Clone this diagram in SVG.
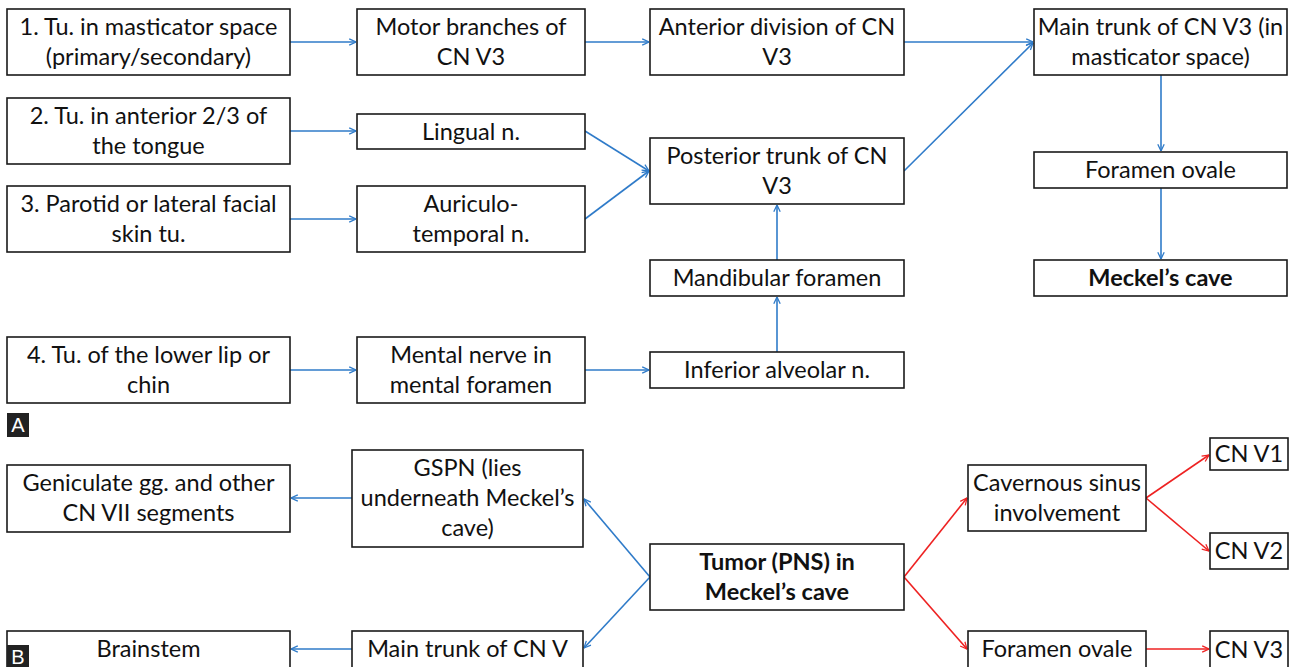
<svg xmlns="http://www.w3.org/2000/svg" width="1293" height="667" viewBox="0 0 1293 667">
<defs>
<marker id="ab" viewBox="0 0 10 10" refX="9.5" refY="5" markerWidth="8" markerHeight="8" orient="auto" markerUnits="userSpaceOnUse"><path d="M1,1 L9.5,5 L1,9" fill="none" stroke="#2F7BC9" stroke-width="1.6"/></marker>
<marker id="ar" viewBox="0 0 10 10" refX="9.5" refY="5" markerWidth="8" markerHeight="8" orient="auto" markerUnits="userSpaceOnUse"><path d="M1,1 L9.5,5 L1,9" fill="none" stroke="#EE2222" stroke-width="1.6"/></marker>
<style>
rect.n{fill:#fff;stroke:#1a1a1a;stroke-width:1.6}
text{font-family:Lato,"Liberation Sans",sans-serif;font-size:23.5px;fill:#111;text-anchor:middle}
text.b{font-weight:bold}
.cb line{stroke:#2F7BC9;stroke-width:1.6;marker-end:url(#ab)}
.cr line{stroke:#EE2222;stroke-width:1.6;marker-end:url(#ar)}
.lab rect{fill:#222}
.lab text{fill:#fff;font-family:"Liberation Sans",sans-serif;font-size:20px}
</style>
</defs>
<rect width="1293" height="667" fill="#fff"/>
<g id="connectors">
<g class="cb">
<line x1="290" y1="42" x2="356" y2="42"/>
<line x1="585" y1="42" x2="649" y2="42"/>
<line x1="904" y1="42" x2="1033" y2="42"/>
<line x1="904" y1="171" x2="1033" y2="43"/>
<line x1="290" y1="131" x2="356" y2="131"/>
<line x1="290" y1="219" x2="356" y2="219"/>
<line x1="585" y1="131" x2="649" y2="171"/>
<line x1="585" y1="219" x2="649" y2="171"/>
<line x1="777" y1="260" x2="777" y2="205"/>
<line x1="777" y1="352" x2="777" y2="297"/>
<line x1="290" y1="370" x2="356" y2="370"/>
<line x1="585" y1="370" x2="649" y2="370"/>
<line x1="1161" y1="75" x2="1161" y2="151"/>
<line x1="1161" y1="188" x2="1161" y2="259"/>
<line x1="352" y1="498" x2="291" y2="498"/>
<line x1="352" y1="649" x2="291" y2="649"/>
<line x1="650" y1="577" x2="584" y2="499"/>
<line x1="650" y1="577" x2="584" y2="648"/>
</g>
<g class="cr">
<line x1="904" y1="577" x2="967" y2="498"/>
<line x1="904" y1="577" x2="967" y2="649"/>
<line x1="1146" y1="498" x2="1209" y2="455"/>
<line x1="1146" y1="498" x2="1209" y2="551"/>
<line x1="1146" y1="649" x2="1209" y2="649"/>
</g>
</g>
<g id="n1"><rect class="n" x="7" y="9" width="283" height="66"/><text x="148.5" y="35">1. Tu. in masticator space</text><text x="148.5" y="65">(primary/secondary)</text></g>
<g id="n2"><rect class="n" x="7" y="98" width="283" height="66"/><text x="148.5" y="124">2. Tu. in anterior 2/3 of</text><text x="148.5" y="154">the tongue</text></g>
<g id="n3"><rect class="n" x="7" y="186" width="283" height="66"/><text x="148.5" y="212">3. Parotid or lateral facial</text><text x="148.5" y="242">skin tu.</text></g>
<g id="n4"><rect class="n" x="7" y="337" width="283" height="66"/><text x="148.5" y="363">4. Tu. of the lower lip or</text><text x="148.5" y="393">chin</text></g>
<g id="motor"><rect class="n" x="357" y="9" width="228" height="66"/><text x="471" y="35">Motor branches of</text><text x="471" y="65">CN V3</text></g>
<g id="lingual"><rect class="n" x="357" y="114" width="228" height="35"/><text x="471" y="140">Lingual n.</text></g>
<g id="auriculo"><rect class="n" x="357" y="186" width="228" height="66"/><text x="471" y="212">Auriculo-</text><text x="471" y="242">temporal n.</text></g>
<g id="mental"><rect class="n" x="357" y="337" width="228" height="66"/><text x="471" y="363">Mental nerve in</text><text x="471" y="393">mental foramen</text></g>
<g id="anterior"><rect class="n" x="650" y="9" width="254" height="66"/><text x="777" y="35">Anterior division of CN</text><text x="777" y="65">V3</text></g>
<g id="posterior"><rect class="n" x="650" y="138" width="254" height="66"/><text x="777" y="164">Posterior trunk of CN</text><text x="777" y="194">V3</text></g>
<g id="mandibular"><rect class="n" x="650" y="260" width="254" height="36"/><text x="777" y="286">Mandibular foramen</text></g>
<g id="inferior"><rect class="n" x="650" y="352" width="254" height="36"/><text x="777" y="378">Inferior alveolar n.</text></g>
<g id="maintrunk3"><rect class="n" x="1034" y="9" width="253" height="66"/><text x="1160.5" y="35">Main trunk of CN V3 (in</text><text x="1160.5" y="65">masticator space)</text></g>
<g id="foramenA"><rect class="n" x="1034" y="152" width="253" height="36"/><text x="1160.5" y="178">Foramen ovale</text></g>
<g id="meckel"><rect class="n" x="1034" y="260" width="253" height="36"/><text class="b" x="1160.5" y="286">Meckel’s cave</text></g>
<g id="labelA" class="lab"><rect x="7" y="413" width="22" height="24"/><text x="18" y="432">A</text></g>
<g id="geniculate"><rect class="n" x="7" y="465" width="283" height="67"/><text x="148.5" y="491">Geniculate gg. and other</text><text x="148.5" y="521">CN VII segments</text></g>
<g id="brainstem"><rect class="n" x="7" y="631" width="283" height="40"/><text x="148.5" y="657">Brainstem</text></g>
<g id="labelB" class="lab"><rect x="7" y="645" width="22" height="24"/><text x="18" y="664">B</text></g>
<g id="gspn"><rect class="n" x="352" y="450" width="231" height="97"/><text x="467.5" y="476">GSPN (lies</text><text x="467.5" y="506">underneath Meckel’s</text><text x="467.5" y="536">cave)</text></g>
<g id="maintrunkV"><rect class="n" x="352" y="631" width="231" height="40"/><text x="467.5" y="657">Main trunk of CN V</text></g>
<g id="tumor"><rect class="n" x="650" y="544" width="254" height="66"/><text class="b" x="777" y="570">Tumor (PNS) in</text><text class="b" x="777" y="600">Meckel’s cave</text></g>
<g id="cavernous"><rect class="n" x="968" y="465" width="178" height="66"/><text x="1057" y="491">Cavernous sinus</text><text x="1057" y="521">involvement</text></g>
<g id="foramenB"><rect class="n" x="968" y="631" width="178" height="40"/><text x="1057" y="657">Foramen ovale</text></g>
<g id="v1"><rect class="n" x="1210" y="438" width="78" height="32"/><text x="1249" y="462">CN V1</text></g>
<g id="v2"><rect class="n" x="1210" y="533" width="78" height="36"/><text x="1249" y="559">CN V2</text></g>
<g id="v3"><rect class="n" x="1210" y="631" width="78" height="40"/><text x="1249" y="658">CN V3</text></g>
</svg>
